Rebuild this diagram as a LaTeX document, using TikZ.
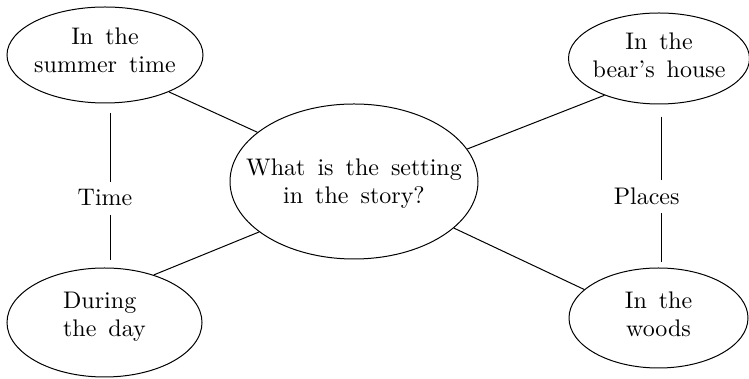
\documentclass[tikz,border=0pt]{standalone}
\usepackage{fontspec}
\setmainfont{lmroman10-regular.otf}
\usetikzlibrary{shapes.geometric}
\newcommand\widewordspace{\spaceskip=12pt\relax}
\tikzset{
  oval/.style={ellipse, draw, line width=1pt, inner sep=-40pt, align=center,
    font=\fontsize{24}{28}\selectfont, execute at begin node=\widewordspace},
  lbl/.style={inner sep=0pt, font=\fontsize{24}{28}\selectfont},
  link/.style={line width=1pt}
}
\begin{document}
\begin{tikzpicture}[x=1pt,y=1pt]
\useasboundingbox (0,0) rectangle (749,379);
\node[oval, minimum width=196pt, minimum height=96pt, text depth=10.5pt] (tl) at (105,324) {In the\\summer time};
\node[oval, minimum width=181pt, minimum height=91pt, text depth=7pt] (tr) at (659,320.5) {In the\\bear's house};
\node[oval, minimum width=248pt, minimum height=155pt, text depth=0pt] (c) at (354,197.5) {What is the setting\\in the story?};
\node[oval, align=left, minimum width=195pt, minimum height=109pt, text depth=15.7pt] (bl) at (104.5,56.5) {During\\the day};
\node[oval, minimum width=179pt, minimum height=100pt, text depth=8pt] (br) at (658.5,61) {In the\\woods};
\node[lbl] (time) at (105,181.6) {Time};
\node[lbl] (places) at (646.7,183) {Places};
\coordinate (t1) at (110,265.7);
\coordinate (t2) at (110,197.3);
\coordinate (t3) at (110,164);
\coordinate (t4) at (110,119);
\coordinate (p1) at (661.7,262.3);
\coordinate (p2) at (661.7,199);
\coordinate (p3) at (661.7,165.7);
\coordinate (p4) at (661.7,117.3);
\draw[link] (tl.-30) -- (c.153.9);
\draw[link] (c.16) -- (tr.-146.4);
\draw[link] (c.-152) -- (bl.44.4);
\draw[link] (c.-25.2) -- (br.159.8);
\draw[link] (t1) -- (t2) (t3) -- (t4);
\draw[link] (p1) -- (p2) (p3) -- (p4);
\end{tikzpicture}
\end{document}
